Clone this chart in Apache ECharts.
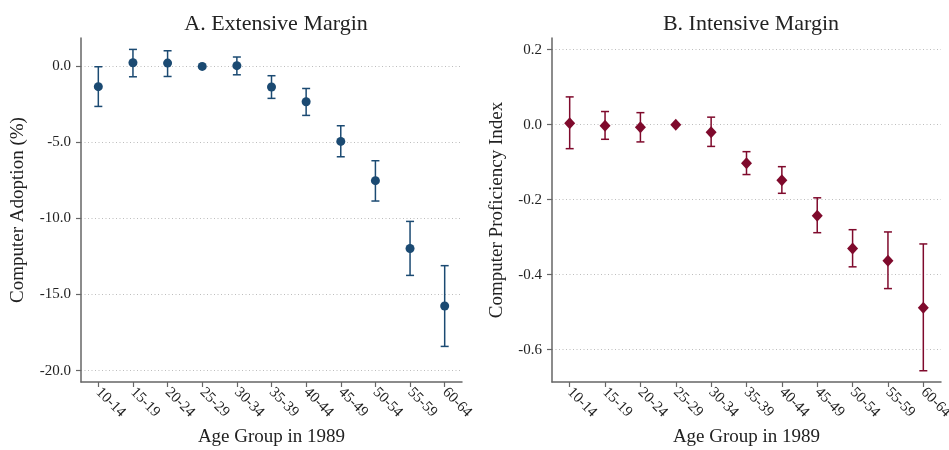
<!DOCTYPE html>
<html>
<head>
<meta charset="utf-8">
<script src="https://cdn.jsdelivr.net/npm/echarts@6/dist/echarts.min.js"></script>
<style>
  html, body { margin: 0; padding: 0; background: #fff; }
  #main { width: 949px; height: 450px; }
</style>
</head>
<body>
<div id="main"></div>
<script>
var ageGroups = ['10-14','15-19','20-24','25-29','30-34','35-39','40-44','45-49','50-54','55-59','60-64'];

// panel A: extensive margin (percentage points)
var extPoint = [-1.33, 0.24, 0.22, 0, 0.05, -1.35, -2.32, -4.93, -7.51, -11.97, -15.75];
var extLow   = [-2.63, -0.68, -0.66, null, -0.55, -2.10, -3.22, -5.94, -8.85, -13.74, -18.41];
var extHigh  = [-0.02, 1.12, 1.03, null, 0.62, -0.61, -1.45, -3.90, -6.20, -10.19, -13.10];
var extTicks = [0, -5, -10, -15, -20];

// panel B: intensive margin (index)
var intPoint = [0.004, -0.003, -0.007, 0, -0.020, -0.103, -0.148, -0.243, -0.330, -0.363, -0.488];
var intLow   = [-0.064, -0.039, -0.046, null, -0.058, -0.133, -0.183, -0.288, -0.379, -0.437, -0.656];
var intHigh  = [0.074, 0.035, 0.032, null, 0.020, -0.072, -0.112, -0.195, -0.280, -0.286, -0.318];
var intTicks = [0.2, 0, -0.2, -0.4, -0.6];

var blue = '#1b4a72';
var red = '#7f0a2c';
var axisGray = '#666';
var font = 'Liberation Serif, Times New Roman, serif';

function ciData(low, high) {
  var out = [];
  for (var i = 0; i < ageGroups.length; i++) {
    if (low[i] != null) out.push([i, low[i], high[i]]);
  }
  return out;
}

function errorBars(color) {
  return function (params, api) {
    var lo = api.coord([api.value(0), api.value(1)]);
    var hi = api.coord([api.value(0), api.value(2)]);
    var w = 4;
    var style = { stroke: color, lineWidth: 1.5 };
    return {
      type: 'group',
      children: [
        { type: 'line', shape: { x1: lo[0], y1: lo[1], x2: hi[0], y2: hi[1] }, style: style },
        { type: 'line', shape: { x1: lo[0] - w, y1: lo[1], x2: lo[0] + w, y2: lo[1] }, style: style },
        { type: 'line', shape: { x1: hi[0] - w, y1: hi[1], x2: hi[0] + w, y2: hi[1] }, style: style }
      ]
    };
  };
}

function xAxisFor(idx) {
  return {
    type: 'category',
    gridIndex: idx,
    data: ageGroups,
    boundaryGap: true,
    name: 'Age Group in 1989',
    nameLocation: 'middle',
    nameGap: 46,
    nameTextStyle: { fontFamily: font, fontSize: 19, color: '#222' },
    axisLine: { onZero: false, lineStyle: { color: axisGray, width: 1.5 } },
    axisTick: { show: true, alignWithLabel: true, length: 5, lineStyle: { color: axisGray, width: 1.2 } },
    axisLabel: { rotate: -45, fontFamily: font, fontSize: 15, color: '#222', margin: 8, interval: 0 },
    splitLine: { show: false }
  };
}

function yAxisFor(idx, min, max, ticks, name, gap, digits) {
  return {
    type: 'value',
    gridIndex: idx,
    min: min,
    max: max,
    name: name,
    nameLocation: 'middle',
    nameGap: gap,
    nameTextStyle: { fontFamily: font, fontSize: 19, color: '#222' },
    axisLine: { show: true, onZero: false, lineStyle: { color: axisGray, width: 1.5 } },
    axisTick: { show: true, length: 5, customValues: ticks, lineStyle: { color: axisGray, width: 1.2 } },
    axisLabel: {
      customValues: ticks,
      fontFamily: font, fontSize: 15, color: '#222', margin: 10,
      formatter: function (v) { return v.toFixed(digits); }
    },
    splitLine: { show: true, lineStyle: { color: '#bdbdbd', type: [1, 2.5], width: 1 } }
  };
}

var myChart = echarts.init(document.getElementById('main'), null, { renderer: 'canvas' });

var option = {
  backgroundColor: '#fff',
  animation: false,
  title: [
    { text: 'A. Extensive Margin', left: 271, top: 8, textAlign: 'center',
      textStyle: { fontFamily: font, fontSize: 22, fontWeight: 'normal', color: '#222' } },
    { text: 'B. Intensive Margin', left: 746, top: 8, textAlign: 'center',
      textStyle: { fontFamily: font, fontSize: 22, fontWeight: 'normal', color: '#222' } }
  ],
  grid: [
    { left: 81, right: 487, top: 38, bottom: 68, outerBoundsMode: 'none' },
    { left: 552, right: 8, top: 38, bottom: 68, outerBoundsMode: 'none' }
  ],
  xAxis: [xAxisFor(0), xAxisFor(1)],
  yAxis: [
    yAxisFor(0, -20.75, 1.87, extTicks, 'Computer Adoption (%)', 53, 1),
    yAxisFor(1, -0.686, 0.231, intTicks, 'Computer Proficiency Index', 45, 1)
  ],
  series: [
    {
      type: 'custom', xAxisIndex: 0, yAxisIndex: 0,
      renderItem: errorBars(blue), data: ciData(extLow, extHigh), z: 2
    },
    {
      type: 'scatter', xAxisIndex: 0, yAxisIndex: 0,
      symbol: 'circle', symbolSize: 9,
      itemStyle: { color: blue, opacity: 1 },
      data: extPoint, z: 3
    },
    {
      type: 'custom', xAxisIndex: 1, yAxisIndex: 1,
      renderItem: errorBars(red), data: ciData(intLow, intHigh), z: 2
    },
    {
      type: 'scatter', xAxisIndex: 1, yAxisIndex: 1,
      symbol: 'diamond', symbolSize: [11, 12],
      itemStyle: { color: red, opacity: 1 },
      data: intPoint, z: 3
    }
  ]
};

myChart.setOption(option);
</script>
</body>
</html>
